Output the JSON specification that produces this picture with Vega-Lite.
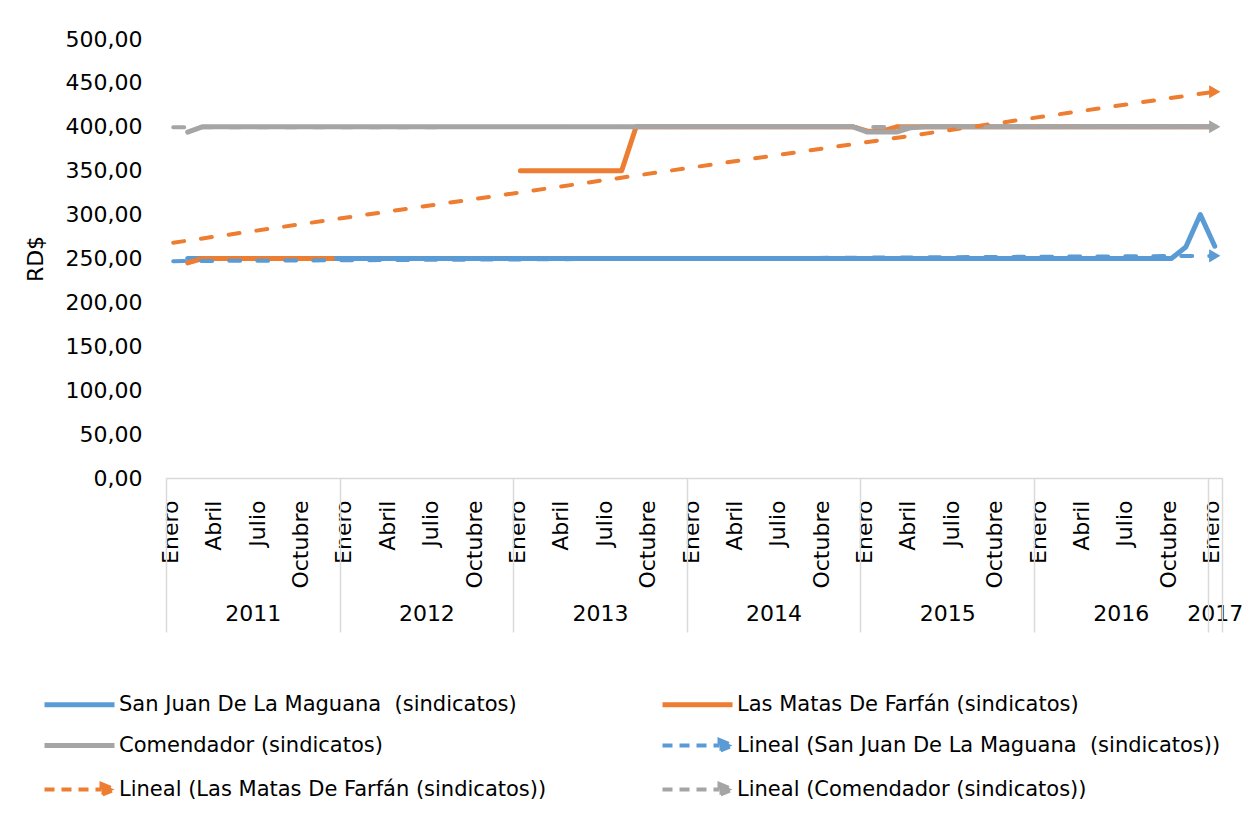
{
"$schema":"https://vega.github.io/schema/vega-lite/v6.json",
"width":1056,"height":439,
"autosize":"none",
"padding":{"left":166,"top":39,"right":22,"bottom":349},
"background":"white",
"config":{"view":{"stroke":null},"font":"DejaVu Sans","axis":{"labelColor":"#000000","titleColor":"#000000","labelFont":"DejaVu Sans","titleFont":"DejaVu Sans"},"legend":{"labelFont":"DejaVu Sans","labelColor":"#000000"}},
"datasets":{
"lines":[
{"s":"A","g":"A","m":1,"v":250},{"s":"A","g":"A","m":2,"v":250},{"s":"A","g":"A","m":3,"v":250},{"s":"A","g":"A","m":4,"v":250},{"s":"A","g":"A","m":5,"v":250},{"s":"A","g":"A","m":6,"v":250},{"s":"A","g":"A","m":7,"v":250},{"s":"A","g":"A","m":8,"v":250},{"s":"A","g":"A","m":9,"v":250},{"s":"A","g":"A","m":10,"v":250},{"s":"A","g":"A","m":11,"v":250},{"s":"A","g":"A","m":12,"v":250},{"s":"A","g":"A","m":13,"v":250},{"s":"A","g":"A","m":14,"v":250},{"s":"A","g":"A","m":15,"v":250},{"s":"A","g":"A","m":16,"v":250},{"s":"A","g":"A","m":17,"v":250},{"s":"A","g":"A","m":18,"v":250},{"s":"A","g":"A","m":19,"v":250},{"s":"A","g":"A","m":20,"v":250},{"s":"A","g":"A","m":21,"v":250},{"s":"A","g":"A","m":22,"v":250},{"s":"A","g":"A","m":23,"v":250},{"s":"A","g":"A","m":24,"v":250},{"s":"A","g":"A","m":25,"v":250},{"s":"A","g":"A","m":26,"v":250},{"s":"A","g":"A","m":27,"v":250},{"s":"A","g":"A","m":28,"v":250},{"s":"A","g":"A","m":29,"v":250},{"s":"A","g":"A","m":30,"v":250},{"s":"A","g":"A","m":31,"v":250},{"s":"A","g":"A","m":32,"v":250},{"s":"A","g":"A","m":33,"v":250},{"s":"A","g":"A","m":34,"v":250},{"s":"A","g":"A","m":35,"v":250},{"s":"A","g":"A","m":36,"v":250},{"s":"A","g":"A","m":37,"v":250},{"s":"A","g":"A","m":38,"v":250},{"s":"A","g":"A","m":39,"v":250},{"s":"A","g":"A","m":40,"v":250},{"s":"A","g":"A","m":41,"v":250},{"s":"A","g":"A","m":42,"v":250},{"s":"A","g":"A","m":43,"v":250},{"s":"A","g":"A","m":44,"v":250},{"s":"A","g":"A","m":45,"v":250},{"s":"A","g":"A","m":46,"v":250},{"s":"A","g":"A","m":47,"v":250},{"s":"A","g":"A","m":48,"v":250},{"s":"A","g":"A","m":49,"v":250},{"s":"A","g":"A","m":50,"v":250},{"s":"A","g":"A","m":51,"v":250},{"s":"A","g":"A","m":52,"v":250},{"s":"A","g":"A","m":53,"v":250},{"s":"A","g":"A","m":54,"v":250},{"s":"A","g":"A","m":55,"v":250},{"s":"A","g":"A","m":56,"v":250},{"s":"A","g":"A","m":57,"v":250},{"s":"A","g":"A","m":58,"v":250},{"s":"A","g":"A","m":59,"v":250},{"s":"A","g":"A","m":60,"v":250},{"s":"A","g":"A","m":61,"v":250},{"s":"A","g":"A","m":62,"v":250},{"s":"A","g":"A","m":63,"v":250},{"s":"A","g":"A","m":64,"v":250},{"s":"A","g":"A","m":65,"v":250},{"s":"A","g":"A","m":66,"v":250},{"s":"A","g":"A","m":67,"v":250},{"s":"A","g":"A","m":68,"v":250},{"s":"A","g":"A","m":69,"v":250},{"s":"A","g":"A","m":70,"v":263},{"s":"A","g":"A","m":71,"v":300},{"s":"A","g":"A","m":72,"v":264},
{"s":"B","g":"B1","m":1,"v":245},{"s":"B","g":"B1","m":2,"v":250},{"s":"B","g":"B1","m":3,"v":250},{"s":"B","g":"B1","m":4,"v":250},{"s":"B","g":"B1","m":5,"v":250},{"s":"B","g":"B1","m":6,"v":250},{"s":"B","g":"B1","m":7,"v":250},{"s":"B","g":"B1","m":8,"v":250},{"s":"B","g":"B1","m":9,"v":250},{"s":"B","g":"B1","m":10,"v":250},{"s":"B","g":"B1","m":11,"v":250},
{"s":"B","g":"B2","m":24,"v":350},{"s":"B","g":"B2","m":25,"v":350},{"s":"B","g":"B2","m":26,"v":350},{"s":"B","g":"B2","m":27,"v":350},{"s":"B","g":"B2","m":28,"v":350},{"s":"B","g":"B2","m":29,"v":350},{"s":"B","g":"B2","m":30,"v":350},{"s":"B","g":"B2","m":31,"v":350},{"s":"B","g":"B2","m":32,"v":400},{"s":"B","g":"B2","m":33,"v":400},{"s":"B","g":"B2","m":34,"v":400},{"s":"B","g":"B2","m":35,"v":400},{"s":"B","g":"B2","m":36,"v":400},{"s":"B","g":"B2","m":37,"v":400},{"s":"B","g":"B2","m":38,"v":400},{"s":"B","g":"B2","m":39,"v":400},{"s":"B","g":"B2","m":40,"v":400},{"s":"B","g":"B2","m":41,"v":400},{"s":"B","g":"B2","m":42,"v":400},{"s":"B","g":"B2","m":43,"v":400},{"s":"B","g":"B2","m":44,"v":400},{"s":"B","g":"B2","m":45,"v":400},{"s":"B","g":"B2","m":46,"v":400},{"s":"B","g":"B2","m":47,"v":400},{"s":"B","g":"B2","m":48,"v":395},{"s":"B","g":"B2","m":49,"v":395},{"s":"B","g":"B2","m":50,"v":400},{"s":"B","g":"B2","m":51,"v":400},{"s":"B","g":"B2","m":52,"v":400},{"s":"B","g":"B2","m":53,"v":400},{"s":"B","g":"B2","m":54,"v":400},{"s":"B","g":"B2","m":55,"v":400},{"s":"B","g":"B2","m":56,"v":400},{"s":"B","g":"B2","m":57,"v":400},{"s":"B","g":"B2","m":58,"v":400},{"s":"B","g":"B2","m":59,"v":400},{"s":"B","g":"B2","m":60,"v":400},{"s":"B","g":"B2","m":61,"v":400},{"s":"B","g":"B2","m":62,"v":400},{"s":"B","g":"B2","m":63,"v":400},{"s":"B","g":"B2","m":64,"v":400},{"s":"B","g":"B2","m":65,"v":400},{"s":"B","g":"B2","m":66,"v":400},{"s":"B","g":"B2","m":67,"v":400},{"s":"B","g":"B2","m":68,"v":400},{"s":"B","g":"B2","m":69,"v":400},{"s":"B","g":"B2","m":70,"v":400},{"s":"B","g":"B2","m":71,"v":400},{"s":"B","g":"B2","m":72,"v":400},
{"s":"C","g":"C","m":1,"v":394},{"s":"C","g":"C","m":2,"v":400},{"s":"C","g":"C","m":3,"v":400},{"s":"C","g":"C","m":4,"v":400},{"s":"C","g":"C","m":5,"v":400},{"s":"C","g":"C","m":6,"v":400},{"s":"C","g":"C","m":7,"v":400},{"s":"C","g":"C","m":8,"v":400},{"s":"C","g":"C","m":9,"v":400},{"s":"C","g":"C","m":10,"v":400},{"s":"C","g":"C","m":11,"v":400},{"s":"C","g":"C","m":12,"v":400},{"s":"C","g":"C","m":13,"v":400},{"s":"C","g":"C","m":14,"v":400},{"s":"C","g":"C","m":15,"v":400},{"s":"C","g":"C","m":16,"v":400},{"s":"C","g":"C","m":17,"v":400},{"s":"C","g":"C","m":18,"v":400},{"s":"C","g":"C","m":19,"v":400},{"s":"C","g":"C","m":20,"v":400},{"s":"C","g":"C","m":21,"v":400},{"s":"C","g":"C","m":22,"v":400},{"s":"C","g":"C","m":23,"v":400},{"s":"C","g":"C","m":24,"v":400},{"s":"C","g":"C","m":25,"v":400},{"s":"C","g":"C","m":26,"v":400},{"s":"C","g":"C","m":27,"v":400},{"s":"C","g":"C","m":28,"v":400},{"s":"C","g":"C","m":29,"v":400},{"s":"C","g":"C","m":30,"v":400},{"s":"C","g":"C","m":31,"v":400},{"s":"C","g":"C","m":32,"v":400},{"s":"C","g":"C","m":33,"v":400},{"s":"C","g":"C","m":34,"v":400},{"s":"C","g":"C","m":35,"v":400},{"s":"C","g":"C","m":36,"v":400},{"s":"C","g":"C","m":37,"v":400},{"s":"C","g":"C","m":38,"v":400},{"s":"C","g":"C","m":39,"v":400},{"s":"C","g":"C","m":40,"v":400},{"s":"C","g":"C","m":41,"v":400},{"s":"C","g":"C","m":42,"v":400},{"s":"C","g":"C","m":43,"v":400},{"s":"C","g":"C","m":44,"v":400},{"s":"C","g":"C","m":45,"v":400},{"s":"C","g":"C","m":46,"v":400},{"s":"C","g":"C","m":47,"v":400},{"s":"C","g":"C","m":48,"v":394},{"s":"C","g":"C","m":49,"v":394},{"s":"C","g":"C","m":50,"v":394},{"s":"C","g":"C","m":51,"v":399},{"s":"C","g":"C","m":52,"v":400},{"s":"C","g":"C","m":53,"v":400},{"s":"C","g":"C","m":54,"v":400},{"s":"C","g":"C","m":55,"v":400},{"s":"C","g":"C","m":56,"v":400},{"s":"C","g":"C","m":57,"v":400},{"s":"C","g":"C","m":58,"v":400},{"s":"C","g":"C","m":59,"v":400},{"s":"C","g":"C","m":60,"v":400},{"s":"C","g":"C","m":61,"v":400},{"s":"C","g":"C","m":62,"v":400},{"s":"C","g":"C","m":63,"v":400},{"s":"C","g":"C","m":64,"v":400},{"s":"C","g":"C","m":65,"v":400},{"s":"C","g":"C","m":66,"v":400},{"s":"C","g":"C","m":67,"v":400},{"s":"C","g":"C","m":68,"v":400},{"s":"C","g":"C","m":69,"v":400},{"s":"C","g":"C","m":70,"v":400},{"s":"C","g":"C","m":71,"v":400},{"s":"C","g":"C","m":72,"v":400},
{"s":"D","g":"D","m":0,"v":247},{"s":"D","g":"D","m":72,"v":253},
{"s":"E","g":"E","m":0,"v":268},{"s":"E","g":"E","m":72,"v":440},
{"s":"F","g":"F","m":0,"v":399.5},{"s":"F","g":"F","m":72,"v":400}
],
"arrows":[{"s":"D","m":72,"v":253},{"s":"E","m":72,"v":440},{"s":"F","m":72,"v":400}]
},
"layer":[
{"data":{"name":"lines"},
 "transform":[{"filter":"datum.s <= 'C'"}],
 "mark":{"type":"line","strokeWidth":5,"strokeCap":"round","strokeJoin":"round"},
 "encoding":{
  "x":{"field":"m","type":"quantitative","scale":{"domain":[-0.5,72.5],"nice":false,"zero":false},
   "axis":{"orient":"bottom","values":[0,3,6,9,12,15,18,21,24,27,30,33,36,39,42,45,48,51,54,57,60,63,66,69,72],"labelExpr":"['Enero','Abril','Julio','Octubre'][(datum.value % 12)/3]","labelAngle":270,"labelAlign":"right","labelBaseline":"middle","labelPadding":22,"labelOffset":-3,"labelFontSize":22,"labelOverlap":false,"labelFlush":false,"ticks":false,"grid":false,"domain":true,"domainColor":"#d9d9d9","domainWidth":1.5,"title":null}},
  "y":{"field":"v","type":"quantitative","scale":{"domain":[0,500],"nice":false},
   "axis":{"values":[0,50,100,150,200,250,300,350,400,450,500],"labelExpr":"replace(format(datum.value,'.2f'),'.',',')","labelFontSize":22,"labelPadding":24,"ticks":false,"domain":false,"grid":false,"title":"RD$","titleFontSize":22,"titleFontWeight":"normal","titlePadding":18}},
  "color":{"field":"s","type":"nominal","scale":{"domain":["A","B","C","D","E","F"],"range":["#5B9BD5","#ED7D31","#A5A5A5","#5B9BD5","#ED7D31","#A5A5A5"]},
   "legend":{"orient":"none","legendX":-97,"legendY":655,"columns":2,"direction":"horizontal","symbolType":"M-3.5,0L3.5,0","symbolSize":400,"symbolStrokeWidth":5,"labelOffset":29,"labelFontSize":21,"labelLimit":0,"columnPadding":105,"rowPadding":17,"title":null,
    "labelExpr":"datum.value=='A'?'San Juan De La Maguana \u00a0(sindicatos)':datum.value=='B'?'Las Matas De Farfán (sindicatos)':datum.value=='C'?'Comendador (sindicatos)':datum.value=='D'?'Lineal (San Juan De La Maguana \u00a0(sindicatos))':datum.value=='E'?'Lineal (Las Matas De Farfán (sindicatos))':'Lineal (Comendador (sindicatos))'",
    "encode":{"symbols":{"update":{
      "shape":{"signal":"datum.value >= 'D' ? 'M-3.5,0L2.2,0M2.2,-0.55L3.5,0L2.2,0.55Z' : 'M-3.5,0L3.5,0'"},
      "strokeWidth":{"signal":"datum.value >= 'D' ? 4 : 5"},
      "strokeDash":{"signal":"datum.value >= 'D' ? [10,7] : [1,0]"},
      "fill":{"signal":"datum.value >= 'D' ? scale('color', datum.value) : 'transparent'"}}}}}},
  "detail":{"field":"g"}
 }},
{"data":{"name":"lines"},
 "transform":[{"filter":"datum.s >= 'D'"}],
 "mark":{"type":"line","strokeWidth":4,"strokeCap":"round","strokeDash":[11,17]},
 "encoding":{
  "x":{"field":"m","type":"quantitative","axis":{"orient":"bottom","values":[5.5,17.5,29.5,41.5,53.5,65.5,72],"labelExpr":"datum.value==72?'2017':''+(2011+floor(datum.value/12))","labelFontSize":22,"labelPadding":125,"labelAngle":0,"labelAlign":"center","labelOverlap":false,"labelFlush":false,"ticks":false,"grid":false,"domain":false,"title":null}},
  "y":{"field":"v","type":"quantitative"},
  "color":{"field":"s","type":"nominal"},
  "detail":{"field":"g"}
 }},
{"data":{"name":"arrows"},
 "mark":{"type":"point","shape":"triangle-right","filled":true,"size":170,"opacity":1},
 "encoding":{
  "x":{"field":"m","type":"quantitative","axis":{"orient":"bottom","values":[-0.5,11.5,23.5,35.5,47.5,59.5,71.5,72.5],"labels":false,"ticks":true,"tickSize":154,"tickColor":"#d9d9d9","tickWidth":1.5,"grid":false,"domain":false,"title":null}},
  "y":{"field":"v","type":"quantitative"},
  "fill":{"field":"s","type":"nominal","scale":{"domain":["D","E","F"],"range":["#5B9BD5","#ED7D31","#A5A5A5"]},"legend":null}
 }}
],
"resolve":{"axis":{"x":"independent"}}
}
